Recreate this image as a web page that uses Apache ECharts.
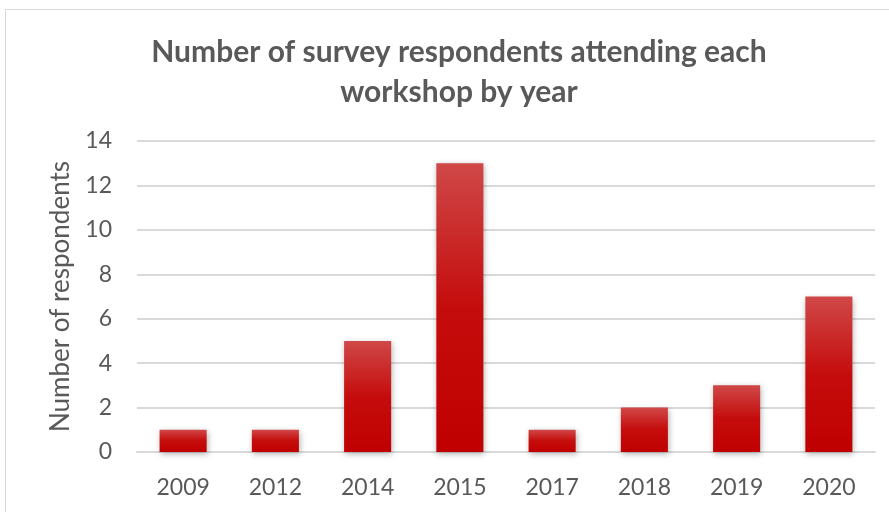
<!DOCTYPE html>
<html>
<head>
<meta charset="utf-8">
<style>
  html, body { margin: 0; padding: 0; background: #ffffff; }
  #chart { width: 889px; height: 512px; }
</style>
<script src="https://cdn.jsdelivr.net/npm/echarts@6/dist/echarts.min.js"></script>
</head>
<body>
<div id="chart"></div>
<script>
// Survey respondents per workshop year
const years = ['2009', '2012', '2014', '2015', '2017', '2018', '2019', '2020'];
const respondents = [1, 1, 5, 13, 1, 2, 3, 7];
const yTicks = [0, 2, 4, 6, 8, 10, 12, 14];

const chart = echarts.init(document.getElementById('chart'));
const textColor = '#595959';
const fontFamily = 'Lato, "Open Sans", sans-serif';

chart.setOption({
  animation: false,
  graphic: [{
    type: 'rect',
    shape: { x: 5.5, y: 9.5, width: 900, height: 520 },
    style: { fill: 'none', stroke: '#d9d9d9', lineWidth: 1 },
    silent: true
  }],
  title: {
    text: 'Number of survey respondents attending each\nworkshop by year',
    left: 454,
    textAlign: 'center',
    top: 27,
    textStyle: {
      color: textColor,
      fontFamily: fontFamily,
      fontWeight: 'bold',
      fontSize: 30,
      lineHeight: 40
    }
  },
  grid: { left: 137, right: 14, top: 141, bottom: 60, containLabel: false },
  xAxis: {
    type: 'category',
    data: years,
    axisLine: { show: true, lineStyle: { color: '#d9d9d9', width: 2 } },
    axisTick: { show: false },
    axisLabel: { color: textColor, fontFamily: fontFamily, fontSize: 23, margin: 24 }
  },
  yAxis: {
    type: 'value',
    min: yTicks[0],
    max: yTicks[yTicks.length - 1],
    interval: 2,
    name: 'Number of respondents',
    nameLocation: 'middle',
    nameGap: 63,
    nameTextStyle: { color: textColor, fontFamily: fontFamily, fontSize: 26 },
    axisLine: { show: false },
    axisTick: { show: false },
    axisLabel: { color: textColor, fontFamily: fontFamily, fontSize: 23, margin: 25 },
    splitLine: { lineStyle: { color: '#d9d9d9', width: 2 } }
  },
  series: [{
    type: 'bar',
    data: respondents,
    barWidth: '51%',
    itemStyle: {
      color: new echarts.graphic.LinearGradient(0, 0, 0, 1, [
        { offset: 0, color: '#d04848' },
        { offset: 0.5, color: '#c50c0c' },
        { offset: 1, color: '#c00000' }
      ]),
      shadowColor: 'rgba(0,0,0,0.3)',
      shadowBlur: 6,
      shadowOffsetX: 1,
      shadowOffsetY: 2
    }
  }]
});
</script>
</body>
</html>
